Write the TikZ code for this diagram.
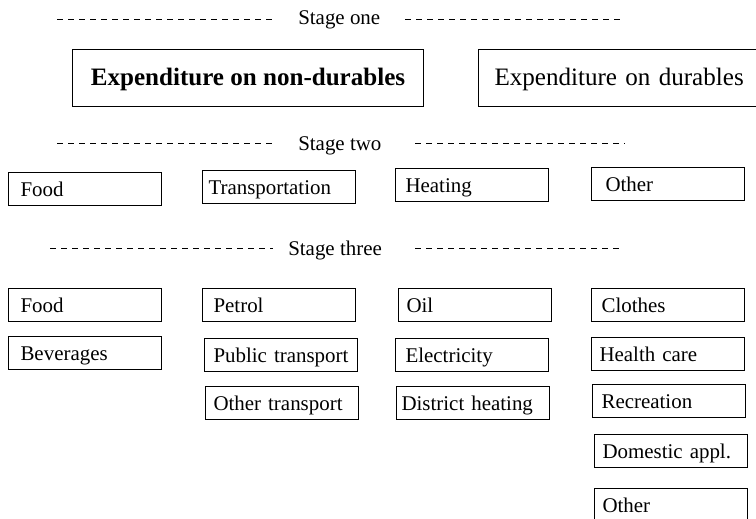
\documentclass[tikz,border=0pt]{standalone}
\usepackage{fontspec}
\setmainfont{Liberation Serif}
\usepackage{tikz}
\usetikzlibrary{positioning}

\begin{document}
\begin{tikzpicture}[x=0.75pt,y=-0.75pt,
    entry/.style={draw,line width=0.8pt,anchor=north west,
      inner ysep=4.4pt,text height=13.6pt,text depth=2.35pt,
      inner xsep=#1*0.75pt,text width=114.75pt-1.5pt*#1,align=left,
      font=\fontsize{15.7}{18}\selectfont},
    entry/.default=8,
    stage/.style={anchor=base west,inner sep=0pt,
      font=\fontsize{15.7}{18}\selectfont},
    rule/.style={line width=0.6pt,dash pattern=on 4.5pt off 3.75pt}]
  \tikzstyle{group}=[draw,line width=0.8pt,anchor=north west,
      inner ysep=0pt,text height=27pt,text depth=15.75pt,
      font=\fontsize{18.8}{22}\selectfont]
  \useasboundingbox (0,0) rectangle (756,518);

  % stage one
  \node[stage] (s1) at (298,24) {Stage one};
  \coordinate (s1a) at (57,19);  \coordinate (s1b) at (276,19);
  \coordinate (s1c) at (405,19); \coordinate (s1d) at (625,19);
  \draw[rule] (s1a) -- (s1b) (s1c) -- (s1d);

  \node[group,minimum width=263.25pt,font=\fontsize{18.8}{22}\selectfont\bfseries]
    (nondur) at (72,49) {Expenditure on non-durables};
  \node[group,inner xsep=12pt,text width=193.5pt,align=left]
    (dur) at (478,49) {Expenditure on durables};

  % stage two
  \node[stage] (s2) at (298,150) {Stage two};
  \coordinate (s2a) at (57,143);  \coordinate (s2b) at (276,143);
  \coordinate (s2c) at (415,143); \coordinate (s2d) at (625,143);
  \draw[rule] (s2a) -- (s2b) (s2c) -- (s2d);

  \node[entry=12] (food2)  at (8,172)   {Food};
  \node[entry=6]  (transp) at (202,170) {Transportation};
  \node[entry=10] (heat)   at (395,168) {Heating};
  \node[entry=14] (other2) at (591,167) {Other};

  % stage three
  \node[stage] (s3) at (288,255) {Stage three};
  \coordinate (s3a) at (50,248);  \coordinate (s3b) at (273,248);
  \coordinate (s3c) at (415,248); \coordinate (s3d) at (621,248);
  \draw[rule] (s3a) -- (s3b) (s3c) -- (s3d);

  \node[entry=12] (food3)   at (8,288)   {Food};
  \node[entry=12] (bev)     at (8,336)   {Beverages};
  \node[entry=11] (petrol)  at (202,288) {Petrol};
  \node[entry=9]  (public)  at (204,338) {Public transport};
  \node[entry=8]  (othtr)   at (205,386) {Other transport};
  \node[entry=8]  (oil)     at (398,288) {Oil};
  \node[entry=10] (elec)    at (395,338) {Electricity};
  \node[entry=5]  (distr)   at (396,386) {District heating};
  \node[entry=10] (clothes) at (591,288) {Clothes};
  \node[entry=8]  (health)  at (591,337) {Health care};
  \node[entry=9]  (recr)    at (592,384) {Recreation};
  \node[entry=8]  (domappl) at (594,434) {Domestic appl.};
  \node[entry=8]  (other3)  at (594,488) {Other};
\end{tikzpicture}
\end{document}
